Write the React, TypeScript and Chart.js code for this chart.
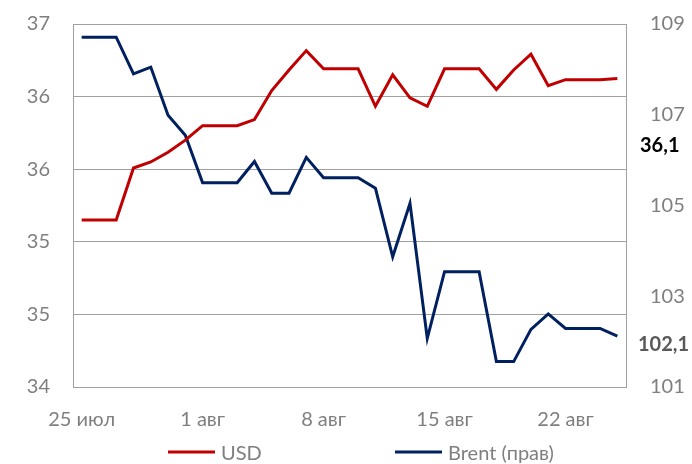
import React, { useEffect, useRef } from "react";
import { Chart, registerables } from "chart.js";

Chart.register(...registerables);

const categories = [
  "25 июл", "26 июл", "27 июл", "28 июл", "29 июл", "30 июл", "31 июл",
  "1 авг", "2 авг", "3 авг", "4 авг", "5 авг", "6 авг", "7 авг",
  "8 авг", "9 авг", "10 авг", "11 авг", "12 авг", "13 авг", "14 авг",
  "15 авг", "16 авг", "17 авг", "18 авг", "19 авг", "20 авг", "21 авг",
  "22 авг", "23 авг", "24 авг", "25 авг",
];

const usd = [
  35.38, 35.38, 35.38, 35.81, 35.86, 35.94, 36.04, 36.16, 36.16, 36.16, 36.21,
  36.45, 36.62, 36.78, 36.63, 36.63, 36.63, 36.32, 36.58, 36.39, 36.32, 36.63,
  36.63, 36.63, 36.46, 36.62, 36.75, 36.49, 36.54, 36.54, 36.54, 36.55,
];

const brent = [
  108.71, 108.71, 108.71, 107.9, 108.05, 106.99, 106.55, 105.5, 105.5, 105.5,
  105.97, 105.27, 105.27, 106.06, 105.61, 105.61, 105.61, 105.38, 103.87,
  105.05, 102.07, 103.54, 103.54, 103.54, 101.56, 101.56, 102.27, 102.61,
  102.29, 102.29, 102.29, 102.12,
];

const leftTicks = [34, 34.6, 35.2, 35.8, 36.4, 37];
const rightTicks = [101, 103, 105, 107, 109];
const seriesNames = ["USD", "Brent (прав)"];
const lastValueLabels = ["36,1", "102,1"];

const RED = "#C00000";
const NAVY = "#002060";
const GRID = "#A0A0A0";
const TICK = "#7F7F7F";
const FONT = "Lato";

const extrasPlugin = {
  id: "extras",
  afterDraw(chart: any) {
    const ctx = chart.ctx;
    const area = chart.chartArea;
    ctx.save();
    // last value labels
    ctx.font = `bold 20px ${FONT}`;
    ctx.textAlign = "left";
    ctx.textBaseline = "middle";
    ctx.fillStyle = "#000000";
    ctx.fillText(lastValueLabels[0], area.right + 14, area.top + 122);
    ctx.fillStyle = "#595959";
    ctx.fillText(lastValueLabels[1], area.right + 12, area.top + 321);
    // legend
    const ly = 452;
    const items = [
      { x: 168, color: RED, text: seriesNames[0] },
      { x: 395, color: NAVY, text: seriesNames[1] },
    ];
    ctx.font = `20px ${FONT}`;
    for (const it of items) {
      ctx.strokeStyle = it.color;
      ctx.lineWidth = 3;
      ctx.beginPath();
      ctx.moveTo(it.x, ly);
      ctx.lineTo(it.x + 47, ly);
      ctx.stroke();
      ctx.fillStyle = TICK;
      ctx.fillText(it.text, it.x + 53, ly + 2);
    }
    ctx.restore();
  },
};

export default function App() {
  const ref = useRef<HTMLCanvasElement | null>(null);
  useEffect(() => {
    if (!ref.current) return;
    const chart = new Chart(ref.current, {
      type: "line",
      data: {
        labels: categories,
        datasets: [
          {
            label: seriesNames[0],
            data: usd,
            borderColor: RED,
            backgroundColor: RED,
            borderWidth: 3,
            pointRadius: 0,
            tension: 0,
            yAxisID: "y",
          },
          {
            label: seriesNames[1],
            data: brent,
            borderColor: NAVY,
            backgroundColor: NAVY,
            borderWidth: 3,
            pointRadius: 0,
            tension: 0,
            yAxisID: "y1",
          },
        ],
      },
      options: {
        animation: false,
        responsive: true,
        maintainAspectRatio: false,
        layout: { padding: { top: 24, left: 0, right: 0, bottom: 0 } },
        plugins: {
          legend: { display: false },
          tooltip: { enabled: false },
        },
        scales: {
          x: {
            offset: true,
            grid: { display: false, drawTicks: false },
            border: { display: false },
            ticks: {
              autoSkip: false,
              maxRotation: 0,
              padding: 21,
              color: TICK,
              font: { family: FONT, size: 20 },
              callback: (_v: any, i: number) => (i % 7 === 0 ? categories[i] : ""),
            },
            afterFit: (s: any) => {
              s.height = 77;
              s.paddingLeft = 0;
              s.paddingRight = 0;
            },
          },
          y: {
            position: "left",
            min: 34,
            max: 37,
            afterBuildTicks: (s: any) => {
              s.ticks = leftTicks.map((v) => ({ value: v }));
            },
            grid: { color: GRID, lineWidth: 1, drawTicks: false },
            border: { display: true, color: GRID, width: 1 },
            ticks: {
              padding: 23,
              color: TICK,
              font: { family: FONT, size: 20 },
              callback: (v: any) => String(Math.round(Number(v))),
            },
            afterFit: (s: any) => {
              s.width = 73;
              s.paddingTop = 0;
              s.paddingBottom = 0;
            },
          },
          y1: {
            position: "right",
            min: 101,
            max: 109,
            afterBuildTicks: (s: any) => {
              s.ticks = rightTicks.map((v) => ({ value: v }));
            },
            grid: { drawOnChartArea: false, drawTicks: false },
            border: { display: true, color: GRID, width: 1 },
            ticks: {
              padding: 24,
              color: TICK,
              font: { family: FONT, size: 20 },
              callback: (v: any) => String(v),
            },
            afterFit: (s: any) => {
              s.width = 66;
              s.paddingTop = 0;
              s.paddingBottom = 0;
            },
          },
        },
      },
      plugins: [extrasPlugin],
    });
    return () => chart.destroy();
  }, []);
  return (
    <div style={{ position: "fixed", left: 0, top: 0, width: 692, height: 464, background: "#fff" }}>
      <canvas ref={ref} />
    </div>
  );
}
